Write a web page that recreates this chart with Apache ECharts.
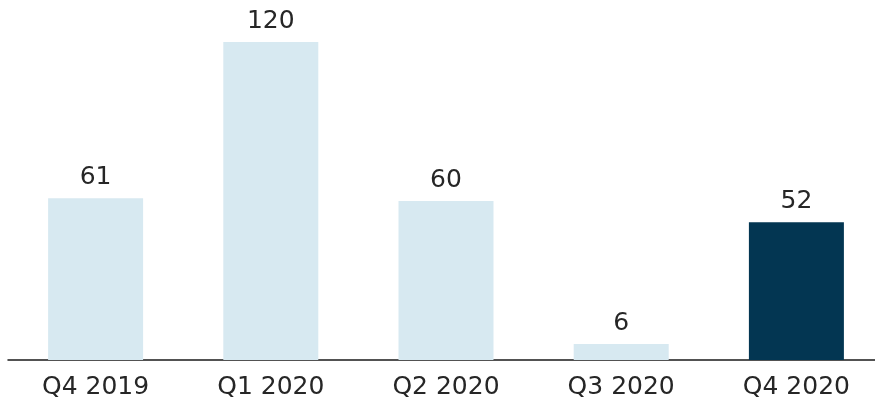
<!DOCTYPE html>
<html>
<head>
<meta charset="utf-8">
<script src="https://cdn.jsdelivr.net/npm/echarts@6/dist/echarts.min.js"></script>
<style>
  html, body { margin: 0; padding: 0; background: #fff; }
  #chart { width: 875px; height: 398px; }
</style>
</head>
<body>
<div id="chart"></div>
<script>
// Quarterly counts
const categories = ['Q4 2019', 'Q1 2020', 'Q2 2020', 'Q3 2020', 'Q4 2020'];
const values = [61, 120, 60, 6, 52];

const lightBlue = '#d7e9f1';
const darkBlue = '#033652';
const font = 'DejaVu Sans';

const chart = echarts.init(document.getElementById('chart'));
chart.setOption({
  animation: false,
  grid: { left: 8, width: 876, top: 42, bottom: 38, outerBoundsMode: 'none', containLabel: false },
  xAxis: {
    type: 'category',
    data: categories,
    axisLine: { show: true, lineStyle: { color: '#1a1a1a', width: 1.5 } },
    axisTick: { show: false },
    axisLabel: { color: '#262626', fontFamily: font, fontSize: 25, margin: 15 }
  },
  yAxis: {
    type: 'value',
    min: 0,
    max: 120,
    show: false,
    splitLine: { show: false }
  },
  series: [{
    type: 'bar',
    barWidth: 95,
    data: values.map((v, i) => ({
      value: v,
      itemStyle: { color: i === values.length - 1 ? darkBlue : lightBlue }
    })),
    label: {
      show: true,
      position: 'top',
      distance: 8,
      color: '#262626',
      fontFamily: font,
      fontSize: 25
    }
  }]
});
</script>
</body>
</html>
